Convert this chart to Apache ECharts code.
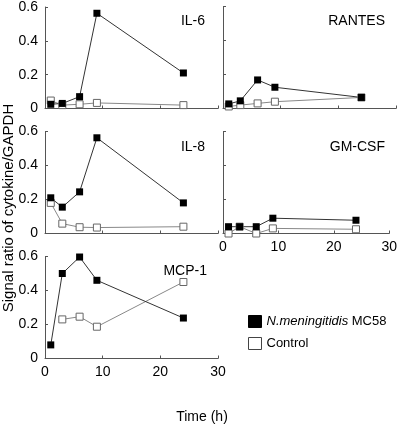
<!DOCTYPE html>
<html><head><meta charset="utf-8">
<script src="https://cdn.jsdelivr.net/npm/echarts@6/dist/echarts.min.js"></script>
<style>html,body{margin:0;padding:0;background:#fff}#c{width:400px;height:426px}</style>
</head><body><div id="c"></div>
<script>
var hours = [1, 3, 6, 9, 24];
var panelNames = ['IL-6', 'RANTES', 'IL-8', 'GM-CSF', 'MCP-1'];
var mc58 = {
  'IL-6':   [0.025, 0.03, 0.07, 0.563, 0.21],
  'RANTES': [0.027, 0.045, 0.168, 0.125, 0.065],
  'IL-8':   [0.21, 0.155, 0.245, 0.563, 0.18],
  'GM-CSF': [0.04, 0.04, 0.04, 0.09, 0.078],
  'MCP-1':  [0.08, 0.5, 0.597, 0.46, 0.238]
};
var control = {
  'IL-6':   [0.047, 0.02, 0.025, 0.033, 0.02],
  'RANTES': [0.012, 0.02, 0.03, 0.04, 0.065],
  'IL-8':   [0.18, 0.058, 0.037, 0.035, 0.04],
  'GM-CSF': [0.0, 0.04, 0.0, 0.03, 0.025],
  'MCP-1':  [null, 0.23, 0.246, 0.187, 0.45]
};
var yTicks = [0, 0.2, 0.4, 0.6];
var xTicks = [0, 10, 20, 30];
var mcName = 'N.meningitidis MC58';
var ctrlName = 'Control';

var layout = [
  {left: 45, top: 6.5, right: 218, showY: true, showX: false, labelRight: 190, labelTop: 9},
  {left: 223, top: 6.5, right: 396, showY: false, showX: false, labelRight: 10, labelTop: 9},
  {left: 45, top: 131.5, right: 218, showY: true, showX: false, labelRight: 190, labelTop: 135},
  {left: 223, top: 131.5, right: 396, showY: false, showX: true, labelRight: 10, labelTop: 135},
  {left: 45, top: 256.5, right: 218, showY: true, showX: true, labelRight: 188, labelTop: 259}
];
var axisColor = '#555';
var font = 'Liberation Sans, Arial, sans-serif';

function pairs(vals) {
  var out = [];
  for (var i = 0; i < hours.length; i++) {
    if (vals[i] !== null) out.push([hours[i], vals[i]]);
  }
  return out;
}

var grids = [], xAxes = [], yAxes = [], series = [], titles = [];
layout.forEach(function (L, i) {
  grids.push({left: L.left, top: L.top, width: L.right - L.left, height: 102});
  xAxes.push({
    type: 'value', gridIndex: i, min: xTicks[0], max: xTicks[xTicks.length - 1], interval: 10,
    axisLine: {show: true, lineStyle: {color: axisColor, width: 1}},
    axisTick: {show: true, inside: true, length: 3, lineStyle: {color: axisColor}},
    axisLabel: {show: L.showX, color: '#000', fontSize: 14, fontFamily: font, margin: 7},
    splitLine: {show: false}
  });
  yAxes.push({
    type: 'value', gridIndex: i, min: yTicks[0], max: yTicks[yTicks.length - 1], interval: 0.2,
    axisLine: {show: true, lineStyle: {color: axisColor, width: 1}},
    axisTick: {show: true, inside: true, length: 3, lineStyle: {color: axisColor}},
    axisLabel: {show: L.showY, color: '#000', fontSize: 14, fontFamily: font, margin: 7,
      formatter: function (v) { return v === 0 ? '0' : v.toFixed(1); }},
    splitLine: {show: false}
  });
  var p = panelNames[i];
  series.push({
    name: ctrlName, type: 'line', xAxisIndex: i, yAxisIndex: i, data: pairs(control[p]),
    symbol: 'rect', symbolSize: 7, showSymbol: true, animation: false,
    lineStyle: {color: '#888', width: 1},
    itemStyle: {color: '#fff', borderColor: '#666', borderWidth: 1}
  });
  series.push({
    name: mcName, type: 'line', xAxisIndex: i, yAxisIndex: i, data: pairs(mc58[p]),
    symbol: 'rect', symbolSize: 7, showSymbol: true, animation: false,
    lineStyle: {color: '#333', width: 1},
    itemStyle: {color: '#000', borderColor: '#000', borderWidth: 0}
  });
  titles.push({text: p, right: L.labelRight, top: L.labelTop,
    textStyle: {fontSize: 14, fontWeight: 'normal', color: '#000', fontFamily: font}});
});

var chart = echarts.init(document.getElementById('c'), null, {renderer: 'canvas'});
chart.setOption({
  animation: false,
  title: titles,
  grid: grids,
  xAxis: xAxes,
  yAxis: yAxes,
  series: series,
  legend: {
    orient: 'vertical', left: 243, top: 310, itemWidth: 13, itemHeight: 12, itemGap: 9,
    selectedMode: false,
    data: [
      {name: mcName, icon: 'rect', itemStyle: {color: '#000', borderColor: '#000', borderWidth: 1}},
      {name: ctrlName, icon: 'rect', itemStyle: {color: '#fff', borderColor: '#444', borderWidth: 1}}
    ],
    formatter: function (n) { return n === mcName ? '{i|N.meningitidis} MC58' : n; },
    textStyle: {fontSize: 13, color: '#000', fontFamily: font,
      rich: {i: {fontStyle: 'italic', fontSize: 13, color: '#000', fontFamily: font}}}
  },
  graphic: [
    {type: 'text', x: 9, y: 208, rotation: Math.PI / 2,
      style: {text: 'Signal ratio of cytokine/GAPDH', fontSize: 15, fontFamily: font, fill: '#000',
        textAlign: 'center', textVerticalAlign: 'middle'}},
    {type: 'text', x: 202, y: 417,
      style: {text: 'Time (h)', fontSize: 14, fontFamily: font, fill: '#000',
        textAlign: 'center', textVerticalAlign: 'middle'}}
  ]
});
</script></body></html>
